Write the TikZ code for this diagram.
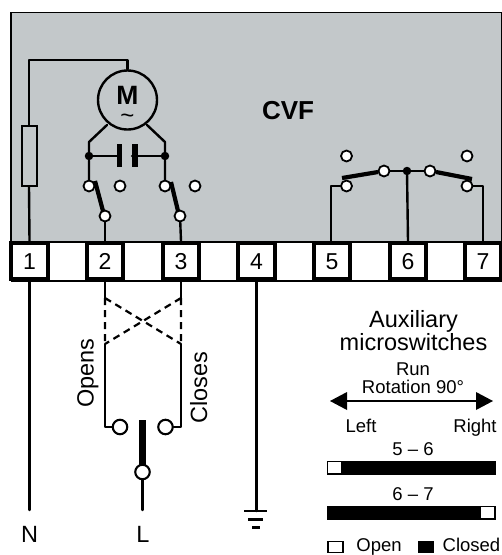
\documentclass[tikz,border=0pt]{standalone}
\usepackage{fontspec}
\setmainfont{Liberation Sans}
\usetikzlibrary{calc}
\definecolor{panel}{RGB}{195,200,202}
\tikzset{
 x=1pt,y=-1pt,
 wire/.style={line width=2.4pt,line cap=round,line join=round},
 blade/.style={line width=4.2pt},
 term/.style={draw,fill=white,line width=3.8pt,minimum size=36.5pt,inner sep=0pt,text height=16pt,text depth=0pt,font=\fontsize{23}{23}\selectfont},
 pin/.style={circle,draw,fill=white,line width=1.8pt,minimum size=11pt,inner sep=0pt},
 bigpin/.style={circle,draw,fill=white,line width=2.1pt,minimum size=14.5pt,inner sep=0pt},
 junction/.style={circle,fill=black,minimum size=8.5pt,inner sep=0pt},
 lab/.style={inner sep=0pt,anchor=base,font=\fontsize{23.5}{23.5}\selectfont},
 smalllab/.style={inner sep=0pt,anchor=base,font=\fontsize{18.5}{18.5}\selectfont},
}
\begin{document}
\begin{tikzpicture}
\useasboundingbox (0,0) rectangle (502,555);
\fill[white] (0,0) rectangle (502,555);
\draw[fill=panel,line width=1.2pt] (11,12.8) rectangle (501.7,242);
\draw[line width=1.2pt] (11,242) -- (502,242) (11,281) -- (502,281);
% terminals
\node[term] (t1) at (29.5,261) {1};
\node[term] (t2) at (105,261) {2};
\node[term] (t3) at (181,261) {3};
\node[term] (t4) at (256.5,261) {4};
\node[term] (t5) at (332,261) {5};
\node[term] (t6) at (408,261) {6};
\node[term] (t7) at (483,261) {7};
% motor
\node[circle,draw,line width=2.4pt,minimum size=59pt,inner sep=0pt] (motor) at (127.5,100) {};
\node[inner sep=0pt,anchor=base,font=\bfseries\fontsize{26.5}{26.5}\selectfont] (mm) at (127.5,104) {M};
\node[inner sep=0pt,anchor=base,font=\fontsize{24}{24}\selectfont] (tilde) at (127.5,123) {\char"007E};
% fuse
\node[draw,line width=2pt,minimum width=15pt,minimum height=60pt,inner sep=0pt] (fuse) at (29,155.5) {};
\draw[wire] (t1.north) -- (fuse.south);
\draw[wire] (fuse.north) -- (29,60) -- (127.5,60) -- (motor.north);
% motor feeds
\node[junction] (jl) at (89,156) {};
\node[junction] (jr) at (165,156) {};
\node[pin] (pa) at (89,186) {};
\node[pin] (pb) at (120,186) {};
\node[pin] (pc) at (165,186) {};
\node[pin] (pd) at (195,186) {};
\node[pin] (pe) at (105,216) {};
\node[pin] (pf) at (180,216) {};
\draw[wire] (107,125) -- (89,142) -- (jl) -- (pa);
\draw[wire] (147,125) -- (165,142) -- (jr) -- (pc);
\fill (116.5,144) rectangle (122,167);
\fill (131.5,144) rectangle (137.5,167);
\coordinate (capl) at (117,156);
\coordinate (capr) at (132,156);
\draw[wire] (jl) -- (capl) (capr) -- (jr);
\draw[blade] (95,181) -- (103,211);
\draw[blade] (171,182) -- (178,211);
\draw[wire] (pe) -- (t2.north);
\draw[wire] (pf) -- (t3.north);
% aux switches
\node[pin] (qa) at (346.5,156) {};
\node[pin] (qb) at (467,156) {};
\node[pin] (qc) at (346.5,186) {};
\node[pin] (qd) at (467,186) {};
\node[pin] (qe) at (384,171) {};
\node[pin] (qf) at (430,171) {};
\node[junction] (qj) at (407,171) {};
\draw[wire] (qe) -- (qj) -- (qf);
\draw[wire] (qj) -- (t6.north);
\draw[blade] (342,178) -- (378,172);
\draw[blade] (436,172) -- (472,179);
\draw[wire] (t5.north -| 331,0) -- (331,186) -- (qc);
\draw[wire] (t7.north -| 483,0) -- (483,186) -- (qd);
% lower wiring
\coordinate (nend) at (29.5,510);
\draw[wire] (t1.south) -- (nend);
\node[lab] (nl) at (29.5,542) {N};
\node[lab] (ll) at (143,542) {L};
\node[bigpin] (ro) at (120,427) {};
\node[bigpin] (rc) at (165.5,427) {};
\node[bigpin] (rl) at (142.5,472) {};
\coordinate (lend) at (142.5,510);
\draw[wire] (rl) -- (lend);
\fill (138.5,420) rectangle (146,466);
\coordinate (a1) at (105,298);
\coordinate (a2) at (105,344);
\coordinate (b1) at (181,298);
\coordinate (b2) at (181,344);
\draw[wire] (t2.south) -- (a1);
\draw[wire] (t3.south) -- (b1);
\draw[wire] (a2) -- (105,427) -- (ro);
\draw[wire] (b2) -- (181,427) -- (rc);
\draw[line width=2.2pt,dash pattern=on 7pt off 5pt] (a1) -- (a2) (b1) -- (b2) (a1) -- (b2) (b1) -- (a2);
\node[lab,rotate=90] (opens) at (93.5,373) {Opens};
\node[lab,rotate=90] (closes) at (207,388) {Closes};
% earth
\coordinate (e0) at (256.5,511);
\draw[wire] (t4.south) -- (e0);
\draw[line width=2.4pt] (244,511) -- (267,511);
\draw[line width=3pt] (248,519) -- (263,519);
\draw[line width=3pt] (252,527) -- (260,527);
% legend
\node[lab,font=\bfseries\fontsize{26}{26}\selectfont] (cvf) at (288,119) {CVF};
\node[lab] (aux) at (413.5,327) {Auxiliary};
\node[lab] (mic) at (413.5,350) {microswitches};
\node[smalllab] (run) at (413,375.5) {Run};
\node[smalllab] (rot) at (413,393.5) {Rotation 90°};
\coordinate (al) at (346,401);
\coordinate (ar) at (477,401);
\draw[line width=2.4pt] (al) -- (ar);
\fill (330,401) -- (347,392) -- (347,410) -- cycle;
\fill (493,401) -- (476,392) -- (476,410) -- cycle;
\node[smalllab] (lft) at (361,432.5) {Left};
\node[smalllab] (rgt) at (475,432.5) {Right};
\node[smalllab] (s56) at (413,455) {5 -- 6};
\draw[fill=black,line width=1.2pt] (327.5,461.5) rectangle (495,474);
\draw[fill=white,line width=1.2pt] (327.5,461.5) rectangle (342,474);
\node[smalllab] (s67) at (413,500) {6 -- 7};
\draw[fill=black,line width=1.2pt] (327.5,506.5) rectangle (495,519);
\draw[fill=white,line width=1.2pt] (480,506.5) rectangle (495,519);
\draw[fill=white,line width=1.2pt] (328,541.5) rectangle (343,552.5);
\node[smalllab] (op) at (379,551) {Open};
\fill (418,541) rectangle (434,553);
\node[smalllab] (cl) at (471.5,551) {Closed};
\end{tikzpicture}
\end{document}
